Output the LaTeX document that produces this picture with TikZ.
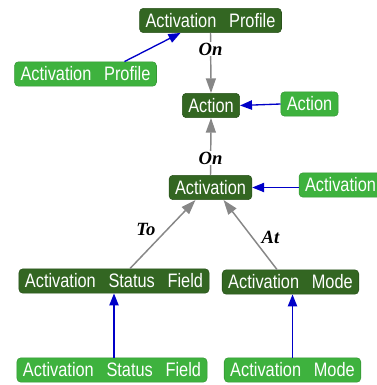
\documentclass[tikz,border=0pt]{standalone}
\usepackage{fontspec}
\usepackage{xcolor}
\usepackage{tikz}
\usetikzlibrary{arrows.meta,calc}

\newfontfamily\boxfont[WordSpace=2.8, FakeStretch=0.84]{Liberation Sans}
\newfontfamily\relfont{Liberation Serif}
\definecolor{clsgreen}{RGB}{51,102,34}
\definecolor{instgreen}{RGB}{62,178,62}
\definecolor{instblue}{RGB}{0,0,200}
\definecolor{relgray}{RGB}{135,135,135}

\begin{document}
\begin{tikzpicture}[x=0.75pt, y=-0.75pt,
    cls/.style={rectangle, rounded corners=3pt, draw=clsgreen!80!black, fill=clsgreen, text=white,
        font=\boxfont\fontsize{14.6}{16}\selectfont, minimum height=18.3pt, inner xsep=4.5pt, inner ysep=0pt},
    inst/.style={cls, draw=instgreen!85!black, fill=instgreen},
    rel/.style={-{Triangle[length=11pt, width=7.5pt]}, relgray, line width=1.1pt},
    isa/.style={-{Triangle[length=9pt, width=7pt]}, instblue, line width=1pt},
    lbl/.style={font=\relfont\bfseries\itshape\fontsize{14}{16}\selectfont, text=black}
]
    \useasboundingbox (0,0) rectangle (377,385);
    \clip (0,0) rectangle (377,385);

    % classes
    \node[cls] (profD) at (210.5,20.5) {Activation Profile};
    \node[cls] (actD) at (211,105.5) {Action};
    \node[cls] (avD) at (210.5,187.5) {Activation};
    \node[cls] (statD) at (114,281) {Activation Status Field};
    \node[cls] (modeD) at (290.5,282) {Activation Mode};

    % instances
    \node[inst] (profL) at (85.5,74) {Activation Profile};
    \node[inst] (actL) at (309.5,104) {Action};
    \node[inst] (avL) at (340.5,185) {Activation};
    \node[inst] (statL) at (112,370) {Activation Status Field};
    \node[inst] (modeL) at (292.5,370) {Activation Mode};

    % relations
    \draw[rel] (profD.south) -- (actD.north) node[lbl, pos=0.27, fill=white, inner sep=0.5pt] {On};
    \draw[rel] (avD.north) -- (actD.south) node[lbl, pos=0.3, fill=white, inner sep=0.5pt] {On};
    \draw[rel] ($(statD.north)+(16,0)$) -- ($(avD.south)+(-15,0)$) node[lbl, pos=0.57, left=5pt] {To};
    \draw[rel] ($(modeD.north)+(-13.5,0)$) -- ($(avD.south)+(13,0)$) node[lbl, pos=0.46, right=3pt] {At};

    % instance links
    \draw[isa] ($(profL.north)+(39,0)$) -- ($(profD.south)+(-30,0)$);
    \draw[isa] (actL.west) -- (actD.east);
    \draw[isa] (avL.west |- avD.east) -- (avD.east);
    \draw[isa] (statL.north -| statD.south) -- (statD.south);
    \draw[isa] (modeL.north) -- (modeL.north |- modeD.south);
\end{tikzpicture}
\end{document}
